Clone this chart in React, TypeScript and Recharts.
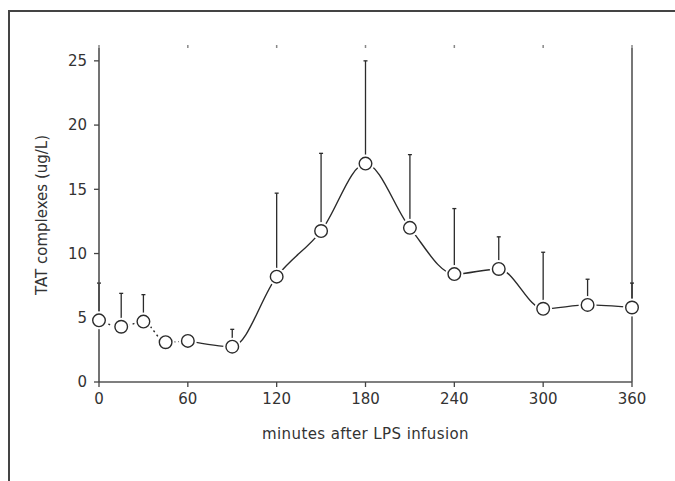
import React from 'react';
import {
    ComposedChart, Line, ErrorBar, XAxis, YAxis, ReferenceLine
} from 'recharts';

// sampling times (min after LPS) and TAT values
const minutes = [0, 15, 30, 45, 60, 90, 120, 150, 180, 210, 240, 270, 300, 330, 360];
const tatMean = [4.8, 4.3, 4.7, 3.1, 3.2, 2.75, 8.2, 11.75, 17.0, 12.0, 8.4, 8.8, 5.7, 6.0, 5.8];
const tatSd = [2.9, 2.6, 2.1, 0, 0, 1.35, 6.5, 6.05, 8.0, 5.7, 5.1, 2.5, 4.4, 2.0, 1.9];

const xTicks = [0, 60, 120, 180, 240, 300, 360];
const yTicks = [0, 5, 10, 15, 20, 25];

// first part of the curve (up to 60 min) is dotted in the original
const DOTTED_UNTIL = 60;

const rows = minutes.map((t, i) => ({
    t,
    tat: tatMean[i],
    early: t <= DOTTED_UNTIL ? tatMean[i] : null,
    late: t >= DOTTED_UNTIL ? tatMean[i] : null,
    err: [0, tatSd[i]],
}));

const FONT = '"DejaVu Sans", sans-serif';
const INK = '#2b2b2b';

// open circle with a white halo so the line stops short of the marker
const OpenDot = (props: any) => {
    const { cx, cy, index } = props;
    if (cx == null || cy == null) return null;
    return (
        <g key={`dot-${index}`}>
            <circle cx={cx} cy={cy} r={9} fill="#fff" stroke="none" />
            <circle cx={cx} cy={cy} r={6.3} fill="#fff" stroke={INK} strokeWidth={1.4} />
        </g>
    );
};

const NoLabel = () => <g />;

export default function App() {
    const tickStyle = { fill: '#333', fontSize: 15, fontFamily: FONT };

    return (
        <div style={{ position: 'fixed', left: 0, top: 0, width: 675, height: 481, overflow: 'hidden', background: '#fff' }}>
            {/* frame of the scanned figure */}
            <div style={{
                position: 'absolute', left: 8, top: 10, width: 720, height: 520,
                borderTop: '2px solid #444', borderLeft: '2px solid #444'
            }} />
            <div style={{ position: 'absolute', left: 0, top: 0 }}>
                <ComposedChart
                    width={675}
                    height={481}
                    data={rows}
                    margin={{ top: 47, right: 43, bottom: 39, left: 39 }}
                >
                    <XAxis
                        dataKey="t"
                        type="number"
                        domain={[0, 360]}
                        ticks={xTicks}
                        interval={0}
                        height={60}
                        tick={tickStyle}
                        tickSize={5}
                        tickMargin={6}
                        axisLine={{ stroke: '#555', strokeWidth: 1.5 }}
                        tickLine={{ stroke: '#444', strokeWidth: 1.3 }}
                        label={{
                            value: 'minutes after LPS infusion',
                            position: 'insideBottom',
                            offset: 3,
                            style: { fill: '#333', fontSize: 15, fontFamily: FONT, letterSpacing: 0.4 }
                        }}
                    />
                    <XAxis
                        xAxisId="top"
                        dataKey="t"
                        type="number"
                        orientation="top"
                        domain={[0, 360]}
                        ticks={xTicks}
                        interval={0}
                        height={1}
                        tick={NoLabel}
                        tickSize={3}
                        axisLine={false}
                        tickLine={{ stroke: '#888', strokeWidth: 1.5 }}
                    />
                    <YAxis
                        type="number"
                        domain={[0, 26]}
                        ticks={yTicks}
                        interval={0}
                        width={60}
                        tick={tickStyle}
                        tickSize={5}
                        tickMargin={7}
                        axisLine={{ stroke: '#444', strokeWidth: 1.5 }}
                        tickLine={{ stroke: '#444', strokeWidth: 1.3 }}
                        label={{
                            value: 'TAT complexes (ug/L)',
                            angle: -90,
                            position: 'insideLeft',
                            offset: 3,
                            style: { textAnchor: 'middle', fill: '#333', fontSize: 15, fontFamily: FONT }
                        }}
                    />
                    <ReferenceLine x={360} stroke="#777" strokeWidth={2} />
                    <Line
                        dataKey="early"
                        type="monotone"
                        stroke={INK}
                        strokeWidth={1.4}
                        strokeDasharray="2 3"
                        dot={false}
                        connectNulls={false}
                        isAnimationActive={false}
                    />
                    <Line
                        dataKey="late"
                        type="monotone"
                        stroke={INK}
                        strokeWidth={1.4}
                        dot={false}
                        connectNulls={false}
                        isAnimationActive={false}
                    />
                    <Line
                        dataKey="tat"
                        type="monotone"
                        stroke="none"
                        dot={OpenDot}
                        activeDot={false}
                        isAnimationActive={false}
                    >
                        <ErrorBar dataKey="err" direction="y" width={2} stroke={INK} strokeWidth={1.3} />
                    </Line>
                </ComposedChart>
            </div>
        </div>
    );
}
